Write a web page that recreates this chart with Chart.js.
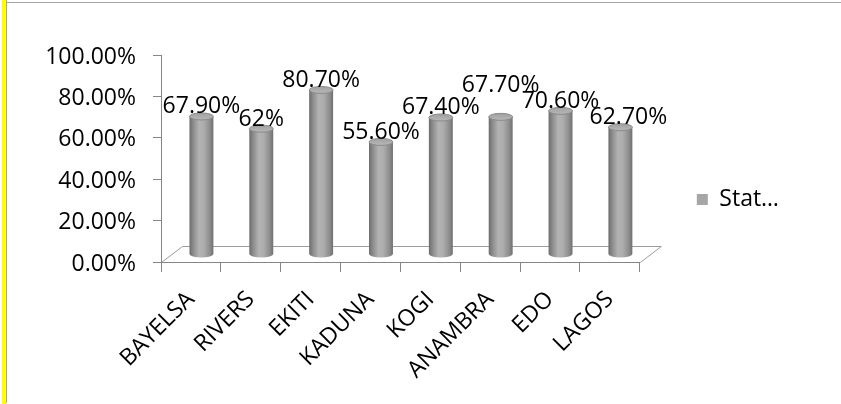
<!DOCTYPE html>
<html><head><meta charset="utf-8">
<script src="https://cdn.jsdelivr.net/npm/chart.js@4"></script>
<style>
html,body{margin:0;padding:0;background:#fff;}
#wrap{position:relative;width:841px;height:404px;overflow:hidden;background:#fff;}
canvas{position:absolute;left:0;top:0;}
.yb{position:absolute;left:2px;top:0;width:4px;height:404px;background:#ffff00;}
.gl{position:absolute;left:6px;top:0;width:1px;height:403px;background:#a6a6a6;}
.gt{position:absolute;left:6px;top:2px;width:835px;height:1px;background:#a6a6a6;}
</style></head><body>
<div id="wrap"><canvas id="c" width="841" height="404"></canvas><div class="yb"></div><div class="gl"></div><div class="gt"></div></div>
<script>
// ---- data ----
const categories = ['BAYELSA', 'RIVERS', 'EKITI', 'KADUNA', 'KOGI', 'ANAMBRA', 'EDO', 'LAGOS'];
const seriesName = 'Stat\u2026';
const values = [67.9, 62, 80.7, 55.6, 67.4, 67.7, 70.6, 62.7];
const yTickValues = [0, 20, 40, 60, 80, 100];

// ---- style ----
const FONT = '"Open Sans", "Liberation Sans", sans-serif';
const FS = 23;
const DEPTH_X = 21, DEPTH_Y = -16;
const labelNudge = { 5: [0, -22], 7: [8, 0] };

function fmtPct(v) { return (Number.isInteger(v) ? String(v) : v.toFixed(2)) + '%'; }

const cylinderPlugin = {
  id: 'cyl3d',
  beforeDatasetsDraw(chart) {
    const { ctx, chartArea: a } = chart;
    ctx.save();
    ctx.strokeStyle = '#9c9c9c';
    ctx.lineWidth = 1;
    ctx.beginPath();
    ctx.moveTo(a.left + 0.5, a.bottom + 0.5);
    ctx.lineTo(a.left + DEPTH_X + 0.5, a.bottom + DEPTH_Y + 0.5);
    ctx.lineTo(a.right + DEPTH_X + 0.5, a.bottom + DEPTH_Y + 0.5);
    ctx.lineTo(a.right + 0.5, a.bottom + 0.5);
    ctx.stroke();
    ctx.restore();
  },
  beforeDatasetDraw() { return false; },
  afterDatasetsDraw(chart) {
    const { ctx } = chart;
    const meta = chart.getDatasetMeta(0);
    const data = chart.data.datasets[0].data;
    meta.data.forEach((el, i) => {
      const cx = el.x + DEPTH_X / 2;
      const rx = el.width / 2, ry = 3.5;
      const botC = el.base + DEPTH_Y / 2 + 0.5;
      const topC = el.y + DEPTH_Y / 2 + 3;
      ctx.save();
      const g = ctx.createLinearGradient(cx - rx, 0, cx + rx, 0);
      g.addColorStop(0, '#6c6c6c');
      g.addColorStop(0.15, '#8a8a8a');
      g.addColorStop(0.4, '#b3b3b3');
      g.addColorStop(0.6, '#adadad');
      g.addColorStop(0.85, '#8d8d8d');
      g.addColorStop(1, '#707070');
      ctx.fillStyle = g;
      ctx.beginPath();
      ctx.moveTo(cx - rx, topC);
      ctx.lineTo(cx - rx, botC);
      ctx.ellipse(cx, botC, rx, ry, 0, Math.PI, 0, true);
      ctx.lineTo(cx + rx, topC);
      ctx.closePath();
      ctx.fill();
      // top cap
      const g2 = ctx.createLinearGradient(0, topC - ry, 0, topC + ry);
      g2.addColorStop(0, '#a0a0a0');
      g2.addColorStop(1, '#b8b8b8');
      ctx.fillStyle = g2;
      ctx.strokeStyle = '#8a8a8a';
      ctx.lineWidth = 1;
      ctx.beginPath();
      ctx.ellipse(cx, topC, rx, ry, 0, 0, Math.PI * 2);
      ctx.fill();
      ctx.stroke();
      // label
      const n = labelNudge[i] || [0, 0];
      ctx.fillStyle = '#000';
      ctx.font = FS + 'px ' + FONT;
      ctx.textAlign = 'center';
      ctx.textBaseline = 'alphabetic';
      ctx.fillText(fmtPct(data[i]), cx + n[0], topC - ry + 0.5 + n[1]);
      ctx.restore();
    });
  }
};

new Chart(document.getElementById('c'), {
  type: 'bar',
  data: {
    labels: categories,
    datasets: [{
      label: seriesName,
      data: values,
      backgroundColor: '#a6a6a6',
      barPercentage: 0.5,
      categoryPercentage: 0.8
    }]
  },
  options: {
    responsive: false,
    animation: false,
    devicePixelRatio: 1,
    events: [],
    layout: { padding: { left: 0, right: 52, top: 0, bottom: 5 } },
    font: { family: FONT, size: FS },
    color: '#000',
    scales: {
      y: {
        min: 0, max: 100,
        afterBuildTicks(s) { s.ticks = yTickValues.map(v => ({ value: v })); },
        afterFit(s) { s.width = 161; },
        ticks: { color: '#000', padding: 17, labelOffset: 2, font: { family: FONT, size: FS }, callback: v => v.toFixed(2) + '%' },
        grid: { drawOnChartArea: false, drawTicks: true, tickLength: 8, color: '#868686' },
        border: { display: true, color: '#868686' }
      },
      x: {
        afterFit(s) { s.height = 137; },
        ticks: { color: '#000', minRotation: 45, maxRotation: 45, autoSkip: false, padding: 14, font: { family: FONT, size: FS } },
        grid: { offset: true, drawOnChartArea: false, drawTicks: true, tickLength: 10, color: '#868686' },
        border: { display: true, color: '#868686' }
      },
      xTop: {
        type: 'category', position: 'top', labels: categories,
        afterFit(s) { s.height = 55; },
        ticks: { display: false }, grid: { display: false }, border: { display: false }
      }
    },
    plugins: {
      legend: {
        position: 'right', align: 'center',
        labels: { boxWidth: 11, boxHeight: 11, padding: 57, color: '#000', font: { family: FONT, size: FS } }
      },
      tooltip: { enabled: false }
    }
  },
  plugins: [cylinderPlugin]
});
</script>
</body></html>
